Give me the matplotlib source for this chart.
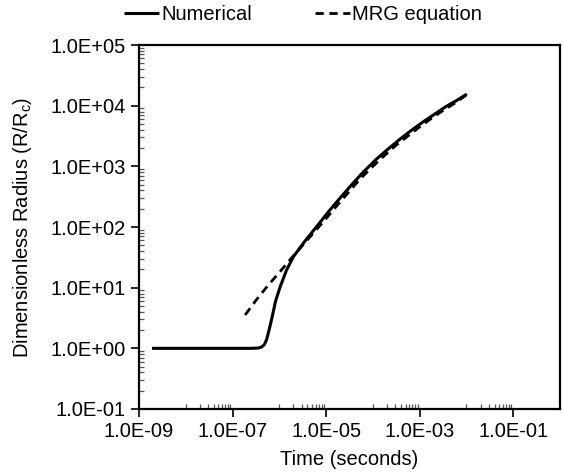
import numpy as np
import matplotlib
matplotlib.use("Agg")
import matplotlib.pyplot as plt
from matplotlib.ticker import FixedLocator, FuncFormatter, NullFormatter

plt.rcParams['font.family'] = ['Liberation Sans', 'DejaVu Sans']
plt.rcParams['mathtext.default'] = 'regular'

# Numerical solution (time in s, dimensionless radius)
t_num = [1.9e-9, 2.51e-7, 3.55e-7, 4.17e-7, 4.79e-7, 5.37e-7, 6.03e-7, 6.92e-7,
         8.32e-7, 1.05e-6, 1.41e-6, 2.0e-6, 3.55e-6, 6.31e-6, 1.12e-5, 2.0e-5,
         3.55e-5, 6.31e-5, 1.12e-4, 2.0e-4, 3.55e-4, 6.31e-4, 1.12e-3, 2.0e-3,
         3.55e-3, 6.31e-3, 1.02e-2]
R_num = [1.0, 1.0, 1.01, 1.05, 1.15, 1.41, 2.0, 3.13,
         6.03, 10.5, 19.1, 32.4, 58.9, 102.0, 178.0, 302.0,
         501.0, 813.0, 1259.0, 1862.0, 2692.0, 3802.0, 5248.0, 7079.0,
         9550.0, 12300.0, 15500.0]

# MRG equation
t_mrg = [1.86e-7, 3.16e-7, 5.62e-7, 1.0e-6, 1.78e-6, 3.16e-6, 5.62e-6, 1.0e-5,
         1.78e-5, 3.16e-5, 5.62e-5, 1.0e-4, 1.78e-4, 3.16e-4, 5.62e-4, 1.0e-3,
         1.78e-3, 3.16e-3, 5.62e-3, 1.02e-2]
R_mrg = [3.55, 6.17, 10.7, 17.8, 30.2, 50.1, 83.2, 138.0,
         234.0, 389.0, 646.0, 1000.0, 1514.0, 2239.0, 3162.0, 4467.0,
         6166.0, 8318.0, 10965.0, 15200.0]

xticks = [1e-9, 1e-7, 1e-5, 1e-3, 1e-1]
yticks = [1e-1, 1e0, 1e1, 1e2, 1e3, 1e4, 1e5]

fig = plt.figure(figsize=(5.64, 4.75), dpi=100)
ax = fig.add_axes([139/564, 1-409/475, (560-139)/564, (409-45)/475])

ln1, = ax.plot(t_num, R_num, color='black', lw=2.2, solid_capstyle='butt',
               solid_joinstyle='round')
ln2, = ax.plot(t_mrg, R_mrg, color='black', lw=2.0, linestyle=(0, (3, 2)))

ax.set_xscale('log')
ax.set_yscale('log')
ax.set_xlim(1e-9, 1e0)
ax.set_ylim(1e-1, 1e5)

fmt = FuncFormatter(lambda v, p: f"{v:.1E}")
ax.xaxis.set_major_locator(FixedLocator(xticks))
ax.xaxis.set_major_formatter(fmt)
ax.yaxis.set_major_locator(FixedLocator(yticks))
ax.yaxis.set_major_formatter(fmt)

xminor = [k * 10.0**e for e in (-8, -6, -4, -2) for k in range(1, 10)]
yminor = [k * 10.0**e for e in range(-1, 5) for k in range(2, 10)]
ax.xaxis.set_minor_locator(FixedLocator(xminor))
ax.yaxis.set_minor_locator(FixedLocator(yminor))
ax.xaxis.set_minor_formatter(NullFormatter())
ax.yaxis.set_minor_formatter(NullFormatter())

ax.tick_params(which='major', direction='out', length=6, width=1.2, labelsize=14.5, colors='black')
ax.tick_params(which='minor', direction='in', length=3.6, width=0.9, color='#555555')
for s in ax.spines.values():
    s.set_linewidth(1.6)
    s.set_color('black')

ax.set_xlabel('Time (seconds)', fontsize=14.5, labelpad=6)
ax.set_ylabel('Dimensionless Radius (R/R$_c$)', fontsize=14.5, labelpad=12)

fig.legend([ln1, ln2], ['Numerical', 'MRG equation'], loc='center',
           bbox_to_anchor=(303/564, 1-15/475), ncol=2, frameon=False,
           fontsize=14.5, handlelength=1.75, handletextpad=0.1, columnspacing=3.1)

fig.savefig('out.png', dpi=100)
